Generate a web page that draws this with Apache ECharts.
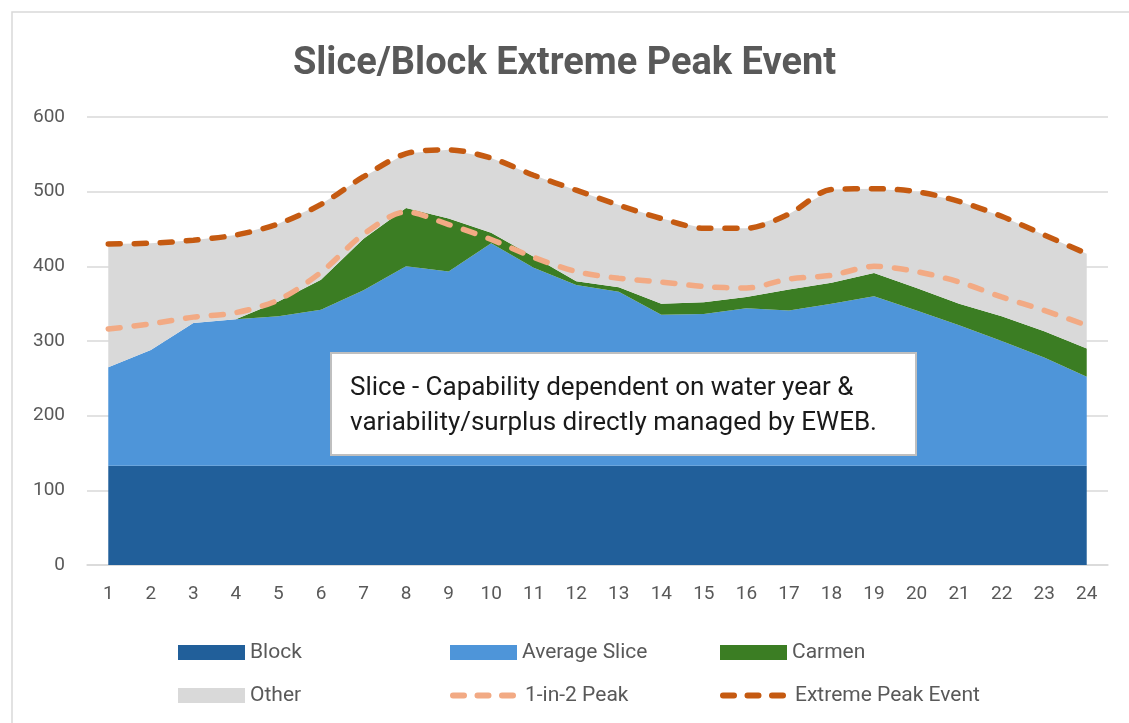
<!DOCTYPE html>
<html>
<head>
<meta charset="utf-8">
<script src="https://cdn.jsdelivr.net/npm/echarts@6/dist/echarts.min.js"></script>
<style>
  html, body { margin: 0; padding: 0; background: #fff; }
  #chart { width: 1129px; height: 723px; }
</style>
</head>
<body>
<div id="chart"></div>
<script>
// hours of the day
const hours = ["1", "2", "3", "4", "5", "6", "7", "8", "9", "10", "11", "12",
  "13", "14", "15", "16", "17", "18", "19", "20", "21", "22", "23", "24"];

// stacked resources (MW)
const block = [133, 133, 133, 133, 133, 133, 133, 133, 133, 133, 133, 133,
  133, 133, 133, 133, 133, 133, 133, 133, 133, 133, 133, 133];
const averageSlice = [132, 155, 191, 196, 200, 209, 235, 267, 260, 298, 265, 242,
  233, 202, 203, 211, 208, 217, 227, 208, 188, 167, 145, 119];
const carmen = [0, 0, 0, 0, 20, 40, 69, 78, 71, 14, 15, 5,
  6, 15, 16, 15, 28, 28, 31, 30, 29, 33, 35, 38];
const other = [165, 143, 111, 113, 104, 101, 83, 73, 92, 100, 109, 122,
  110, 114, 99, 92, 101, 125, 113, 129, 137, 134, 129, 127];

// load lines
const peak1in2 = [316, 323, 332, 338, 355, 392, 443, 473, 456, 436, 412, 393,
  384, 379, 373, 371, 383, 388, 400, 393, 379, 359, 341, 321];
const extremePeak = [430, 431, 435, 442, 457, 483, 520, 551, 556, 545, 522, 502,
  482, 464, 451, 451, 470, 503, 504, 500, 487, 467, 442, 417];

const yTicks = [0, 100, 200, 300, 400, 500, 600];

const chart = echarts.init(document.getElementById("chart"));

const textFont = "Roboto, sans-serif";

const areaSeries = (name, data, color) => ({
  name: name,
  type: "line",
  stack: "total",
  data: data,
  symbol: "none",
  lineStyle: { width: 0 },
  areaStyle: { color: color, opacity: 1 },
  itemStyle: { color: color },
  emphasis: { disabled: true },
});

const lineSeries = (name, data, color) => ({
  name: name,
  type: "line",
  data: data,
  symbol: "none",
  smooth: 0.3,
  lineStyle: { color: color, width: 5.5, type: [12, 14], cap: "round" },
  itemStyle: { color: color },
  emphasis: { disabled: true },
  z: 5,
});

const legendItem = (name, left, top, isLine) => ({
  data: [isLine ? { name: name } : { name: name, icon: "rect" }],
  left: left,
  top: top,
  padding: 0,
  itemWidth: 67,
  itemHeight: 15,
  itemGap: 10,
  itemStyle: isLine ? { opacity: 0 } : {},
  lineStyle: isLine ? { width: 6, type: [11, 13.5], cap: "round" } : {},
  textStyle: { color: "#595959", fontSize: 21, fontFamily: textFont },
  selectedMode: false,
});

const option = {
  animation: false,
  backgroundColor: "#fff",
  title: {
    text: "Slice/Block Extreme Peak Event",
    left: "center",
    top: 40,
    textStyle: { color: "#595959", fontSize: 38, fontWeight: "bold", fontFamily: "Roboto, sans-serif" },
  },
  grid: { left: 87, right: 21, top: 117, bottom: 158 },
  xAxis: {
    type: "category",
    data: hours,
    boundaryGap: true,
    axisLine: { lineStyle: { color: "#d9d9d9", width: 1.5 } },
    axisTick: { show: false },
    axisLabel: { color: "#595959", fontSize: 19, margin: 20, fontFamily: "Roboto, sans-serif" },
  },
  yAxis: {
    type: "value",
    min: yTicks[0],
    max: yTicks[yTicks.length - 1],
    interval: 100,
    axisLine: { show: false },
    axisTick: { show: false },
    axisLabel: { color: "#595959", fontSize: 19, margin: 22, fontFamily: "Roboto, sans-serif" },
    splitLine: { lineStyle: { color: "#d9d9d9", width: 1.5 } },
  },
  legend: [
    legendItem("Block", 178, 642, false),
    legendItem("Average Slice", 450, 642, false),
    legendItem("Carmen", 720, 642, false),
    legendItem("Other", 178, 685, false),
    legendItem("1-in-2 Peak", 450, 685, true),
    legendItem("Extreme Peak Event", 720, 685, true),
  ],
  series: [
    areaSeries("Block", block, "#215F9A"),
    areaSeries("Average Slice", averageSlice, "#4E95D9"),
    areaSeries("Carmen", carmen, "#3B7D23"),
    areaSeries("Other", other, "#D9D9D9"),
    lineSeries("1-in-2 Peak", peak1in2, "#F2AA84"),
    lineSeries("Extreme Peak Event", extremePeak, "#C55A11"),
  ],
  graphic: [
    {
      type: "rect",
      x: 12, y: 12,
      shape: { width: 1130, height: 720 },
      style: { fill: "none", stroke: "#d9d9d9", lineWidth: 1.5 },
      silent: true,
    },
    {
      type: "rect",
      x: 331, y: 353,
      z: 100,
      shape: { width: 585, height: 102 },
      style: { fill: "#fff", stroke: "#bfbfbf", lineWidth: 2 },
      silent: true,
    },
    {
      type: "text",
      x: 350, y: 371,
      z: 101,
      style: {
        text: "Slice - Capability dependent on water year &\nvariability/surplus directly managed by EWEB.",
        fill: "#1a1a1a",
        fontSize: 26,
        fontFamily: "Roboto, sans-serif",
        lineHeight: 35,
      },
      silent: true,
    },
  ],
};

chart.setOption(option);
</script>
</body>
</html>
